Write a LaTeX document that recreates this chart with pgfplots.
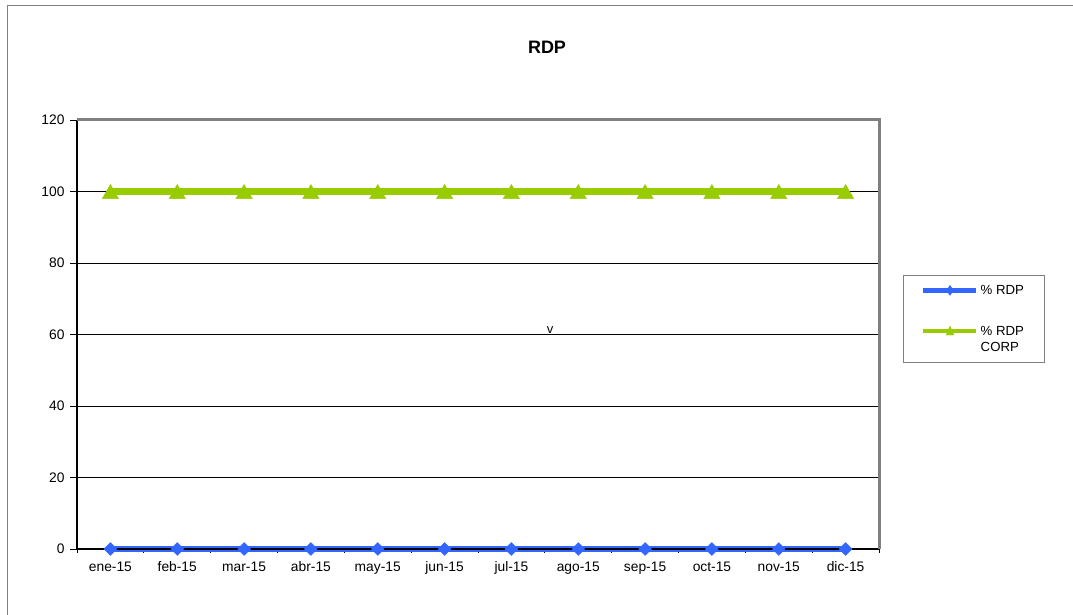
\documentclass[border=0pt]{standalone}
\usepackage{pgfplots}
\pgfplotsset{compat=1.18}
\usepackage{fontspec}
\setmainfont{Liberation Sans}
\definecolor{rdpblue}{RGB}{51,102,255}
\definecolor{rdpgreen}{RGB}{153,204,0}
\definecolor{framegray}{RGB}{128,128,128}
\begin{document}
\begin{tikzpicture}[x=1bp,y=1bp]
\path[use as bounding box] (0,0) rectangle (1073,615);
\draw[framegray,line width=1bp] (7,0) -- (7,609) -- (1073,609);
\node[font=\fontsize{18bp}{20bp}\selectfont\bfseries] at (547,568) {RDP};
\begin{axis}[
  at={(77bp,66bp)}, anchor=south west,
  width=802bp, height=429bp, scale only axis,
  xmin=-0.5, xmax=11.5, ymin=0, ymax=120,
  xtick={0,...,11},
  xticklabels={ene-15,feb-15,mar-15,abr-15,may-15,jun-15,jul-15,ago-15,sep-15,oct-15,nov-15,dic-15},
  minor xtick={-0.5,0.5,...,11.5},
  ytick={0,20,...,120},
  major x tick style={draw=none},
  minor x tick style={black, line width=0.8bp},
  minor tick length=4bp,
  major tick length=7bp,
  tick align=outside,
  xtick pos=bottom, ytick pos=left,
  y tick style={black, line width=0.8bp},
  ymajorgrids, grid style={black, line width=0.8bp},
  axis line style={draw=none},
  tick label style={font=\fontsize{13.8bp}{15bp}\selectfont},
  /pgf/number format/assume math mode=true,
  xticklabel style={yshift=-2bp},
  yticklabel style={xshift=-2bp},
  clip=false,
  legend style={at={(1.03,0.639)}, anchor=north west, draw=framegray, line width=0.8bp,
    font=\fontsize{13.2bp}{16bp}\selectfont, inner xsep=0bp, inner ysep=8bp,
    row sep=26bp, column sep=0bp,
    cells={anchor=base west, inner xsep=2bp}},
]
\addplot[rdpblue, line width=6bp, mark=square*, mark size=4.6bp, mark options={rotate=45, line width=0.3bp},
  legend image code/.code={
    \path[draw=none] (0bp,0bp) -- (70bp,0bp);
    \draw[rdpblue, line width=4.5bp] (20bp,4bp) -- (73bp,4bp);
    \draw[rdpblue, fill=rdpblue, line width=0.3bp] (46.5bp,9bp) -- (50bp,4bp) -- (46.5bp,-1bp) -- (43bp,4bp) -- cycle;
  }]
  coordinates {(0,0)(1,0)(2,0)(3,0)(4,0)(5,0)(6,0)(7,0)(8,0)(9,0)(10,0)(11,0)};
\addlegendentry{\% RDP}
\addplot[rdpgreen, line width=7bp, mark=triangle*, mark size=9.5bp, mark options={yshift=-2.4bp, line width=0.3bp},
  legend image code/.code={
    \path[draw=none] (0bp,-19bp) -- (70bp,0bp);
    \draw[rdpgreen, line width=4.5bp] (20bp,4bp) -- (73bp,4bp);
    \draw[rdpgreen, fill=rdpgreen, line width=0.3bp] (46.5bp,9bp) -- (50.5bp,0bp) -- (42.5bp,0bp) -- cycle;
  }]
  coordinates {(0,100)(1,100)(2,100)(3,100)(4,100)(5,100)(6,100)(7,100)(8,100)(9,100)(10,100)(11,100)};
\addlegendentry{\parbox[t]{62bp}{\% RDP\\CORP}}
\draw[black, line width=1.5bp] (rel axis cs:0,1) -- (rel axis cs:0,0) -- (rel axis cs:1,0);
\draw[framegray, line width=3bp] (rel axis cs:0,1) -- (rel axis cs:1,1) -- (rel axis cs:1,0);
\node[anchor=south, font=\fontsize{13bp}{15bp}\selectfont, inner sep=1bp] at (axis cs:6.58,60) {v};
\end{axis}
\end{tikzpicture}
\end{document}
